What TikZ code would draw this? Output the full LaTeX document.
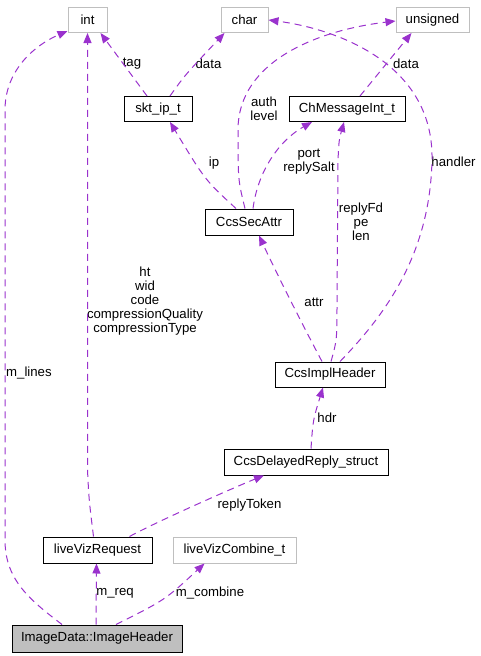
\documentclass[tikz,border=0pt]{standalone}
\usepackage{fontspec}
\setmainfont{Liberation Sans}
\usetikzlibrary{arrows.meta}
\definecolor{edgepurple}{HTML}{9A32CD}
\definecolor{boxgray}{HTML}{BFBFBF}
\begin{document}
\begin{tikzpicture}[x=1pt,y=-1pt,
	font=\fontsize{13.2}{14}\selectfont,
	cls/.style={draw=black,line width=1pt,inner sep=0pt,minimum height=25pt},
	ext/.style={draw=boxgray,line width=1pt,inner sep=0pt,minimum height=25pt},
	dep/.style={draw=edgepurple,line width=1pt,dash pattern=on 7pt off 5pt,-{Triangle[length=10pt,width=8pt,fill=edgepurple]}},
	lbl/.style={align=center,inner sep=0pt}]
	\useasboundingbox (0,0) rectangle (481,656);
	% boxes
	\node[ext,minimum width=39pt] (int) at (87.5,20) {int};
	\node[ext,minimum width=47pt] (char) at (244.5,20) {char};
	\node[ext,minimum width=73pt] (uns) at (432.5,20) {unsigned};
	\node[cls,minimum width=68pt] (skt) at (158,109) {skt\_ip\_t};
	\node[cls,minimum width=116pt] (chm) at (347,109) {ChMessageInt\_t};
	\node[cls,minimum width=88pt,minimum height=26pt] (sec) at (249,222) {CcsSecAttr};
	\node[cls,minimum width=110pt] (impl) at (330,374.5) {CcsImplHeader};
	\node[cls,minimum width=164pt,minimum height=26pt] (dly) at (306,462) {CcsDelayedReply\_struct};
	\node[cls,minimum width=109pt,minimum height=26pt] (lvr) at (97.5,550) {liveVizRequest};
	\node[ext,minimum width=123pt,minimum height=26pt] (lvc) at (234.5,550) {liveVizCombine\_t};
	\node[cls,fill=boxgray,minimum width=170pt,minimum height=27pt] (ih) at (97,638.5) {ImageData::ImageHeader};
	% labels
	\node[lbl,anchor=west] (Lml) at (6,373) {m\_lines};
	\node[lbl] (Lht) at (145,301) {ht\\wid\\code\\compressionQuality\\compressionType};
	\node[lbl] (Ltag) at (132,64) {tag};
	\node[lbl] (Ld1) at (208.5,64) {data};
	\node[lbl] (Ld2) at (406,64) {data};
	\node[lbl] (Lip) at (214,163) {ip};
	\node[lbl] (Lau) at (264,109) {auth\\level};
	\node[lbl] (Lpo) at (309,162) {port\\replySalt};
	\node[lbl] (Lrf) at (361,222) {replyFd\\pe\\len};
	\node[lbl] (Lha) at (453.5,162) {handler};
	\node[lbl] (Lat) at (314,302) {attr};
	\node[lbl] (Lhd) at (327,418) {hdr};
	\node[lbl] (Lrt) at (249.5,505) {replyToken};
	\node[lbl] (Lmr) at (115,593) {m\_req};
	\node[lbl] (Lmc) at (210,593) {m\_combine};
	% connectors
	\draw[dep] ([xshift=-35pt]ih.north) .. controls (30,600) and (5,580) .. (5,540) -- (5,110) .. controls (5,70) and (35,45) .. ([yshift=2pt]int.south west);
	\draw[dep] ([xshift=-4pt]lvr.north) .. controls (89,500) .. (87.5,470) -- (int.south);
	\draw[dep] ([xshift=-11pt]skt.north) -- ([xshift=13pt]int.south);
	\draw[dep] ([xshift=12pt]skt.north) .. controls (185,75) .. ([xshift=-20pt]char.south);
	\draw[dep] ([xshift=-13pt]sec.north) .. controls (205,180) .. ([xshift=12pt]skt.south);
	\draw[dep] ([xshift=-4pt]sec.north) .. controls (238,180) .. (238,130) .. controls (238,60) and (320,30) .. ([yshift=-1pt]uns.west);
	\draw[dep] ([xshift=4pt]sec.north) .. controls (258,170) and (280,140) .. ([xshift=-35pt]chm.south);
	\draw[dep] ([xshift=13pt]chm.north) -- ([xshift=-21pt]uns.south);
	\draw[dep] ([xshift=-8pt]impl.north) .. controls (300,320) and (275,270) .. ([xshift=10pt]sec.south);
	\draw[dep] ([xshift=1pt]impl.north) .. controls (337,340) .. (337,300) -- (338,160) .. controls (339,140) .. ([xshift=-3pt]chm.south);
	\draw[dep] ([xshift=10pt]impl.north) .. controls (390,310) and (430,250) .. (432,160) .. controls (434,60) and (330,28) .. (char.east);
	\draw[dep] ([xshift=5pt]dly.north) .. controls (313,420) .. ([xshift=-7pt]impl.south);
	\draw[dep] ([xshift=32pt]lvr.north) .. controls (160,520) and (240,485) .. ([xshift=-42pt]dly.south);
	\draw[dep] ([xshift=-1pt]ih.north) -- ([xshift=-1pt]lvr.south);
	\draw[dep] ([xshift=19pt]ih.north) .. controls (165,600) .. ([xshift=-30pt]lvc.south);
\end{tikzpicture}
\end{document}
